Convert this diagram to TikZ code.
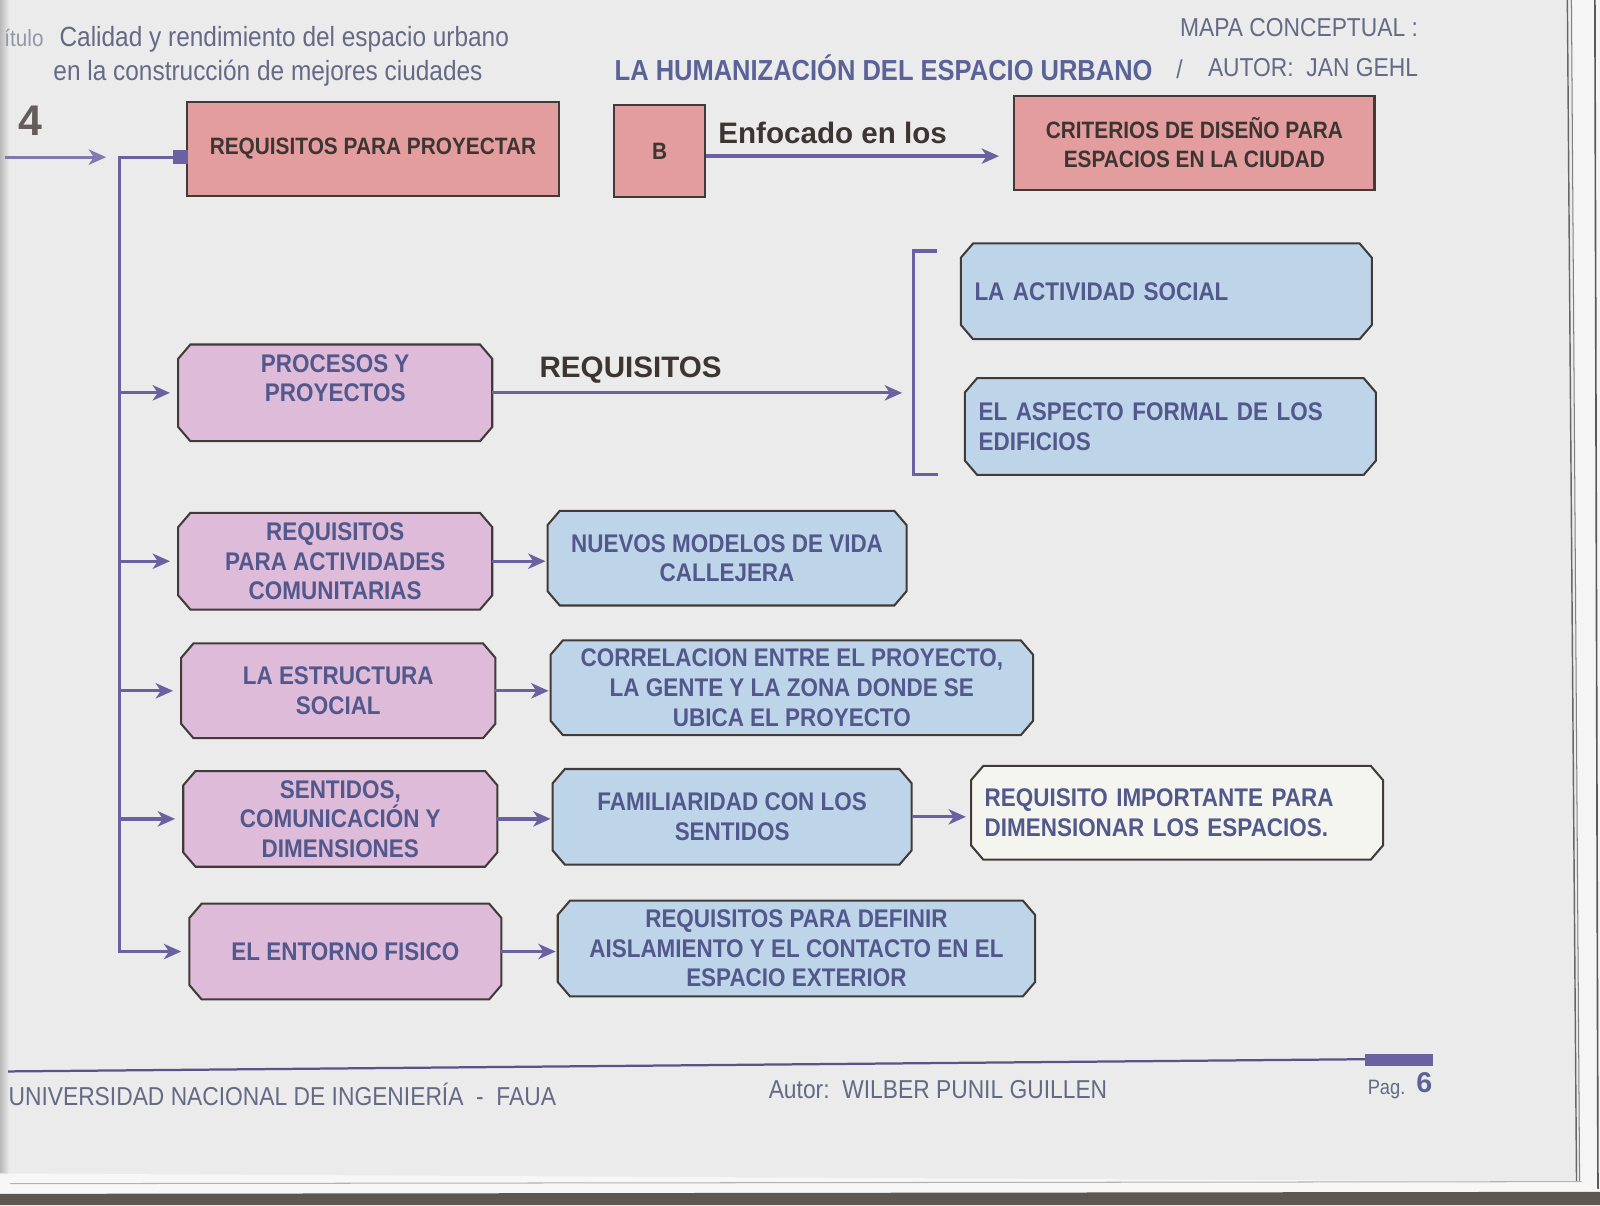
\documentclass[tikz,border=0pt]{standalone}
\usepackage{fontspec}
\setmainfont{Liberation Sans}
\newfontfamily\nar[FakeStretch=0.88]{Liberation Sans}
\usetikzlibrary{arrows.meta,calc,backgrounds}
\pgfdeclarelayer{paper}
\pgfsetlayers{paper,background,main}
\definecolor{pagebg}{HTML}{EBEBEB}
\definecolor{headtxt}{HTML}{646A86}
\definecolor{titleblue}{HTML}{5A6298}
\definecolor{boxtxt}{HTML}{52588C}
\definecolor{lineclr}{HTML}{6A62A0}
\definecolor{darktxt}{HTML}{3D3532}
\definecolor{redfill}{HTML}{E39D9E}
\definecolor{pinkfill}{HTML}{DDBBD9}
\definecolor{bluefill}{HTML}{BED4E9}
\definecolor{whitefill}{HTML}{F5F5EF}
\definecolor{border}{HTML}{403B38}
\definecolor{band}{HTML}{5E5650}
\newcommand{\octbox}[2]{%
  \path[draw=border, line width=1pt, fill=#2]
   ($(#1.north west)+(0pt,-7pt)$) -- ($(#1.north west)+(6pt,0pt)$)
   -- ($(#1.north east)+(-6pt,0pt)$) -- ($(#1.north east)+(0pt,-7pt)$)
   -- ($(#1.south east)+(0pt,7pt)$) -- ($(#1.south east)+(-6pt,0pt)$)
   -- ($(#1.south west)+(6pt,0pt)$) -- ($(#1.south west)+(0pt,7pt)$) -- cycle;}
\begin{document}
\begin{tikzpicture}[x=0.5pt, y=-0.5pt,
  bt/.style={font=\nar\bfseries\fontsize{12.5pt}{14.5pt}\selectfont, text=boxtxt},
  oct/.style 2 args={rectangle, inner sep=0pt, minimum width=#1*0.5pt, minimum height=#2*0.5pt, align=center, bt},
  octl/.style={text width=#1*0.5pt, align=left},
  rbox/.style 2 args={rectangle, draw=border, line width=1pt, fill=redfill, inner sep=0pt, minimum width=#1*0.5pt, minimum height=#2*0.5pt, align=center, font=\nar\bfseries\fontsize{11.6pt}{14pt}\selectfont, text=darktxt},
  link/.style={draw=lineclr, line width=1.6pt},
  arr/.style={link, -{Stealth[length=8.5pt,width=7.5pt,inset=2.5pt]}},
  ht/.style={font=\nar\fontsize{12.7pt}{15pt}\selectfont, text=headtxt, inner sep=0pt},
  lbl/.style={font=\bfseries\fontsize{14.5pt}{17pt}\selectfont, text=darktxt, inner sep=0pt},
  sqr/.style={rectangle, fill=lineclr, inner sep=0pt, minimum width=7pt, minimum height=7pt}
]
\useasboundingbox (0,0) rectangle (1568,1181);
% paper and scan edges
\begin{pgfonlayer}{paper}
  \fill[pagebg] (0,0) rectangle (1568,1181);
  \shade[left color=gray!55, right color=pagebg] (0,0) rectangle (9,1170);
  \fill[white!92!gray] (1540,0) -- (1568,0) -- (1568,1168) -- (1548,1160) -- cycle;
  \draw[gray!80!black, line width=0.7pt] (1536,0) -- (1545,1160);
  \draw[gray, line width=0.5pt] (1540,0) -- (1548,1158);
  \draw[gray!70!black, line width=0.8pt] (1563,0) -- (1566,1168);
  \fill[white!94!gray] (0,1150) -- (1548,1158) -- (1568,1166) -- (1568,1172) -- (0,1170) -- cycle;
  \draw[gray!60, line width=0.5pt] (10,1160) -- (1550,1158);
  \fill[band] (0,1170) -- (1568,1168) -- (1568,1181) -- (0,1181) -- cycle;
\end{pgfonlayer}

% header
\node[ht, text=headtxt!70, anchor=base west, font=\nar\fontsize{11.5pt}{14pt}\selectfont] (cap) at (4,46) {ítulo};
\node[ht, anchor=base west, font=\nar\fontsize{13.6pt}{16pt}\selectfont] (cal1) at (58,46) {Calidad y rendimiento del espacio urbano};
\node[ht, anchor=base west, font=\nar\fontsize{13.6pt}{16pt}\selectfont] (cal2) at (52,79) {en la construcción de mejores ciudades};
\node[ht, anchor=base east] (mapa) at (1390,36) {MAPA CONCEPTUAL :};
\node[font=\nar\bfseries\fontsize{14.2pt}{17pt}\selectfont, text=titleblue, anchor=base west, inner sep=0pt] (titulo) at (602,79) {LA HUMANIZACIÓN DEL ESPACIO URBANO};
\node[ht, anchor=base] (slash) at (1156,77) {/};
\node[ht, anchor=base east] (autor) at (1390,75) {AUTOR:\ \ JAN GEHL};
\node[font=\bfseries\fontsize{21pt}{24pt}\selectfont, text=darktxt!80, anchor=base west, inner sep=0pt] (num) at (18,133) {4};

% top boxes
\node[rbox={365}{92}] (reqproy) at (365.5,146) {REQUISITOS PARA PROYECTAR};
\node[rbox={89}{90}] (bbox) at (646.5,148) {B};
\node[rbox={353}{92}] (criterios) at (1170.5,140) {CRITERIOS DE DISEÑO PARA\\ESPACIOS EN LA CIUDAD};

% octagon boxes (text nodes)
\node[oct={307}{94}] (procesos) at (328.5,385) {PROCESOS Y\\PROYECTOS\\\mbox{}};
\node[oct={307}{94}] (reqact) at (328.5,550) {REQUISITOS\\PARA ACTIVIDADES\\COMUNITARIAS};
\node[oct={307}{92}] (estructura) at (331.5,677) {LA ESTRUCTURA\\SOCIAL};
\node[oct={307}{93}] (sentidos) at (333.5,802.5) {SENTIDOS,\\COMUNICACIÓN Y\\DIMENSIONES};
\node[oct={305}{93}] (entorno) at (338.5,932.5) {EL ENTORNO FISICO};
\node[oct={402}{93}, octl=376] (actividad) at (1143,285.5) {LA ACTIVIDAD SOCIAL};
\node[oct={402}{94}, octl=376] (aspecto) at (1147,418) {EL ASPECTO FORMAL DE LOS\\EDIFICIOS};
\node[oct={351}{92}] (nuevos) at (712.5,547) {NUEVOS MODELOS DE VIDA\\CALLEJERA};
\node[oct={472}{92}] (correlacion) at (776,674) {CORRELACION ENTRE EL PROYECTO,\\LA GENTE Y LA ZONA DONDE SE\\UBICA EL PROYECTO};
\node[oct={351}{93}] (familiaridad) at (717.5,800.5) {FAMILIARIDAD CON LOS\\SENTIDOS};
\node[oct={467}{93}] (definir) at (780.5,929.5) {REQUISITOS PARA DEFINIR\\AISLAMIENTO Y EL CONTACTO EN EL\\ESPACIO EXTERIOR};
\node[oct={403}{91}, octl=377] (importante) at (1153.5,796.5) {REQUISITO IMPORTANTE PARA\\DIMENSIONAR LOS ESPACIOS.};

\begin{pgfonlayer}{background}
  \octbox{procesos}{pinkfill}
  \octbox{reqact}{pinkfill}
  \octbox{estructura}{pinkfill}
  \octbox{sentidos}{pinkfill}
  \octbox{entorno}{pinkfill}
  \octbox{actividad}{bluefill}
  \octbox{aspecto}{bluefill}
  \octbox{nuevos}{bluefill}
  \octbox{correlacion}{bluefill}
  \octbox{familiaridad}{bluefill}
  \octbox{definir}{bluefill}
  \octbox{importante}{whitefill}
\end{pgfonlayer}

% trunk and incoming arrow
\coordinate (in0) at (5,154);
\coordinate (in1) at (104,154);
\draw[arr, draw=lineclr!85] (in0) -- (in1);
\node[sqr] (sq) at (177,154) {};
\coordinate (ttop) at (117,154);
\draw[arr, shorten >=4pt] (sq.west) -- (ttop) |- (entorno.west);
\foreach \n in {procesos,reqact,estructura,sentidos}
  \draw[arr, shorten >=4pt] (ttop |- \n.west) -- (\n.west);

% B -> criterios
\coordinate (bout) at ([yshift=-2.5pt]bbox.east);
\draw[arr, shorten >=7pt] (bout) -- (criterios.west |- bout);
\node[lbl, anchor=base] (enf) at (816,141) {Enfocado en los};

% procesos -> bracket
\coordinate (brt) at (918,246);
\coordinate (brk) at (895,383);
\coordinate (brb) at (919,465);
\draw[link, line width=1.5pt] (brt) -- (brt -| brk) -- (brb -| brk) -- (brb);
\draw[arr, shorten >=5.5pt] (procesos.east) -- (procesos.east -| brk);
\node[lbl, anchor=base] (req) at (618,370) {REQUISITOS};

% pink -> blue
\draw[arr, shorten >=1pt] (reqact.east) -- (nuevos.west |- reqact.east);
\draw[arr, shorten >=1pt] (estructura.east) -- (correlacion.west |- estructura.east);
\draw[arr, shorten >=1pt] (sentidos.east) -- (familiaridad.west |- sentidos.east);
\draw[arr, shorten >=1pt] (entorno.east) -- (definir.west |- entorno.east);
\draw[arr, shorten >=2.5pt] (familiaridad.east) -- (importante.west |- familiaridad.east);

% footer
\draw[draw=lineclr!85!black, line width=1.1pt] (8,1050) -- (1340,1038);
\fill[lineclr] (1338,1033) rectangle (1404,1045);
\node[ht, anchor=base west] (uni) at (8,1083) {UNIVERSIDAD NACIONAL DE INGENIERÍA\ \ -\ \ FAUA};
\node[ht, anchor=base west] (aut) at (753,1077) {Autor:\ \ WILBER PUNIL GUILLEN};
\node[ht, font=\nar\fontsize{10.2pt}{12pt}\selectfont, anchor=base west] (pag) at (1340,1073) {Pag.};
\node[font=\bfseries\fontsize{14pt}{16pt}\selectfont, text=titleblue, anchor=base east, inner sep=0pt] (pnum) at (1404,1071) {6};
\end{tikzpicture}
\end{document}
